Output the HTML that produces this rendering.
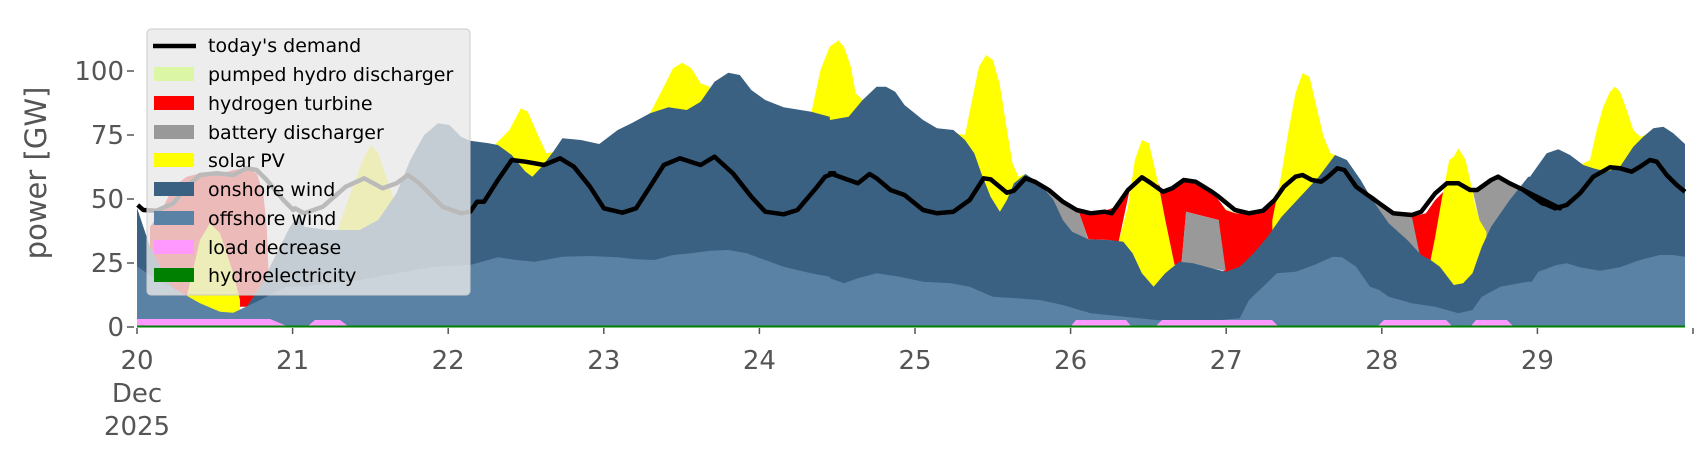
<!DOCTYPE html>
<html><head><meta charset="utf-8"><style>
html,body{margin:0;padding:0;background:#fff;}
svg{display:block;font-family:"DejaVu Sans","Liberation Sans",sans-serif;}
</style></head><body>
<svg id="s" width="1706" height="460" viewBox="0 0 1706 460" xmlns="http://www.w3.org/2000/svg">
<g id="plot"></g>
<g fill="#555" font-size="26">
<text x="124" y="80" text-anchor="end">100</text>
<text x="124" y="144" text-anchor="end">75</text>
<text x="124" y="208" text-anchor="end">50</text>
<text x="124" y="272" text-anchor="end">25</text>
<text x="124" y="336" text-anchor="end">0</text>
</g>
<g stroke="#555" stroke-width="1.5">
<line x1="127" y1="71" x2="134" y2="71"/><line x1="127" y1="135" x2="134" y2="135"/>
<line x1="127" y1="199" x2="134" y2="199"/><line x1="127" y1="263" x2="134" y2="263"/>
<line x1="127" y1="327" x2="134" y2="327"/>
</g>
<text transform="translate(46,173) rotate(-90)" text-anchor="middle" font-size="29" fill="#555">power [GW]</text>
<g id="xt" fill="#555" font-size="26" text-anchor="middle"></g>
<g>
<rect x="147" y="29" width="323" height="266" rx="4" fill="#e8e8e8" fill-opacity="0.8" stroke="#cccccc" stroke-width="1"/>
<line x1="153" y1="46" x2="196" y2="46" stroke="#000" stroke-width="4.5"/>
<rect x="154" y="67" width="40" height="14" fill="#dbf7a5"/>
<rect x="154" y="96" width="40" height="14" fill="#ff0000"/>
<rect x="154" y="125" width="40" height="14" fill="#999999"/>
<rect x="154" y="153" width="40" height="14" fill="#ffff00"/>
<rect x="154" y="182" width="40" height="14" fill="#3b6182"/>
<rect x="154" y="211" width="40" height="14" fill="#5a82a5"/>
<rect x="154" y="240" width="40" height="14" fill="#ff99ff"/>
<rect x="154" y="268" width="40" height="14" fill="#008000"/>
<g font-size="19" fill="#000">
<text x="208" y="52">today's demand</text>
<text x="208" y="81">pumped hydro discharger</text>
<text x="208" y="110">hydrogen turbine</text>
<text x="208" y="139">battery discharger</text>
<text x="208" y="167">solar PV</text>
<text x="208" y="196">onshore wind</text>
<text x="208" y="225">offshore wind</text>
<text x="208" y="254">load decrease</text>
<text x="208" y="282">hydroelectricity</text>
</g>
</g>
</svg>
<script>
(function(){
var NS="http://www.w3.org/2000/svg",B=327;
function Z1(a){return a.map(function(p){return [120+p[0]/2.17,20+p[1]/3];});}
function Z2(a){return a.map(function(p){return [830+p[0]/2.148,20+p[1]/3];});}
function Z3(a){return a.map(function(p){return [p[0]/3,40+p[1]/3];});}
function Z4(a){return a.map(function(p){return [1480+p[0]/3,20+p[1]/3];});}
var g=document.getElementById("plot");
function el(n,at){var e=document.createElementNS(NS,n);for(var k in at)e.setAttribute(k,at[k]);return e;}
function str(p){return p.map(function(q){return q[0].toFixed(1)+","+q[1].toFixed(1);}).join(" L");}
function area(p,c){g.appendChild(el("path",{d:"M"+p[0][0].toFixed(1)+","+B+" L"+str(p)+" L"+p[p.length-1][0].toFixed(1)+","+B+" Z",fill:c}));}
function poly(p,c){g.appendChild(el("path",{d:"M"+str(p)+" Z",fill:c}));}
// pumped hydro
poly(Z2([[840,555],[870,578],[900,582],[925,578],[910,648],[880,642],[850,620]]),"#dbf7a5");
// hydrogen
poly(Z3([[450,560],[480,520],[520,440],[560,410],[600,400],[650,405],[700,390],[740,385],[770,400],[790,460],[800,560],[810,800],[450,800]]),"#ff0000");
poly(Z2([[535,578],[560,580],[595,570],[615,560],[630,540],[645,500],[620,665],[600,660],[555,658]]),"#ff0000");
poly(Z2([[705,490],[715,515],[735,505],[760,480],[790,495],[820,515],[840,550],[850,570],[870,580],[900,582],[925,578],[945,555],[960,530],[972,480],[975,600],[940,720],[900,820],[850,820],[835,600],[765,575],[755,730],[740,735],[720,600]]),"#ff0000");
poly(Z2([[1250,590],[1280,580],[1300,540],[1325,505],[1300,700],[1285,760],[1250,760]]),"#ff0000");
// battery
poly(Z2([[420,462],[460,505],[500,545],[535,578],[555,660],[520,680],[480,620],[430,560]]),"#999999");
poly(Z2([[765,575],[835,600],[850,752],[755,730]]),"#999999");
poly(Z2([[1130,495],[1170,530],[1210,580],[1250,590],[1268,712],[1240,700],[1200,660],[1140,560]]),"#999999");
poly(Z2([[1380,510],[1410,490],[1435,470],[1460,490],[1490,510],[1530,550],[1568,560],[1568,800],[1400,800],[1395,600]]),"#999999");
poly(Z4([[0,500],[50,468],[100,495],[150,520],[150,800],[0,800]]),"#999999");
// solar
var Y="#ffff00";
area(Z3([[560,770],[600,600],[630,550],[660,580],[700,700],[720,780]]),Y);
area(Z1([[470,640],[500,520],[530,410],[545,375],[560,400],[590,520],[610,630]]),Y);
area(Z1([[815,372],[845,330],[870,265],[885,275],[905,340],[925,400],[945,395]]),Y);
area(Z1([[1150,280],[1180,200],[1200,145],[1220,128],[1240,145],[1260,190],[1280,200]]),Y);
area(Z1([[1500,280],[1520,150],[1540,80],[1560,60]]).concat(Z2([[15,58],[30,80],[45,140],[55,220],[70,240]])),Y);
area(Z2([[270,340],[290,345],[305,240],[320,140],[335,105],[350,120],[365,195],[380,330],[392,430],[405,470],[420,462]]),Y);
area(Z2([[620,665],[640,560],[655,420],[670,360],[685,370],[695,430],[705,490],[720,600],[740,735]]),Y);
area(Z2([[950,600],[970,460],[985,330],[1000,220],[1015,160],[1030,170],[1045,260],[1060,350],[1075,400],[1085,405]]),Y);
area(Z2([[1290,720],[1300,650],[1315,530],[1330,420],[1340,410],[1350,385],[1365,420],[1375,480],[1385,550],[1395,600],[1410,635]]),Y);
area(Z4([[300,435],[330,420],[350,330],[370,260],[390,215],[405,200],[420,215],[440,270],[460,330],[480,350],[495,345]]),Y);
// onshore
var on=Z3([[411,505],[413,510],[450,620],[500,720],[560,790],[620,815],[690,825],[740,800],[780,740],[830,640],[870,560],[900,520]])
.concat(Z1([[400,620],[450,630],[520,630],[560,600],[600,520],[630,420],[660,345],[690,310],[715,315],[740,350],[760,362],[800,370],[820,375],[850,405],[880,455],[895,470],[915,440],[940,395],[960,355],[1000,360],[1040,372],[1080,330],[1110,310],[1150,280],[1190,262],[1230,270],[1260,245],[1290,185],[1320,158],[1345,165],[1370,210],[1400,240],[1440,262],[1500,275],[1540,290]]))
.concat(Z2([[0,300],[40,290],[70,240],[100,200],[120,200],[140,215],[160,255],[200,300],[230,325],[265,330],[290,360],[310,400],[325,460],[345,530],[365,575],[380,540],[395,490],[420,462],[450,490],[480,540],[500,600],[520,635],[555,658],[600,660],[630,665],[650,700],[670,760],[695,800],[720,760],[750,725],[780,730],[820,745],[850,755],[880,740],[910,700],[940,650],[970,590],[1010,530],[1050,470],[1085,405],[1110,420],[1140,480],[1165,540],[1200,610],[1240,660],[1270,705],[1290,720],[1310,740],[1340,795],[1360,790],[1380,760],[1400,680],[1420,620],[1460,540],[1500,470]]))
.concat(Z4([[150,470],[200,400],[235,388],[270,405],[310,435],[340,445],[380,455],[420,440],[460,380],[490,350],[520,325],[550,320],[580,340],[615,372]]));
area(on,"#3b6182");
var off=Z3([[411,680],[413,680],[470,720],[530,750],[600,790],[660,815],[700,818],[760,790],[820,760],[860,740],[900,740]])
.concat(Z1([[400,800],[450,790],[520,780],[600,760],[680,740],[760,735],[820,712],[860,720],[900,725],[960,710],[1020,708],[1080,712],[1120,718],[1160,720],[1200,705],[1240,700],[1280,692],[1320,690],[1360,700],[1400,720],[1440,740],[1500,760],[1540,770]]))
.concat(Z2([[0,775],[30,790],[60,775],[100,760],[150,770],[200,785],[260,790],[300,800],[350,830],[400,835],[450,840],[500,855],[560,880],[700,900],[800,905],[880,895],[900,840],[930,800],[960,760],[1000,755],[1040,735],[1080,710],[1100,712],[1130,740],[1160,800],[1180,810],[1200,830],[1250,850],[1300,860],[1350,880],[1380,870],[1400,830],[1440,800],[1480,790],[1500,785]]))
.concat(Z4([[155,785],[175,755],[230,735],[260,730],[300,742],[360,752],[420,742],[480,720],[540,705],[580,705],[615,710]]));
area(off,"#5a82a5");
// load decrease
var P="#ff99ff";
area([[137,319],[270,319],[287,326]],P);
area([[308,326],[315,320],[340,320],[348,326]],P);
area([[1071,326],[1076,320],[1126,320],[1131,326]],P);
area([[1156,326],[1162,320],[1272,320],[1278,326]],P);
area([[1378,326],[1384,320],[1446,320],[1452,326]],P);
area([[1471,326],[1476,320],[1507,320],[1513,326]],P);
g.appendChild(el("line",{x1:137,y1:326.5,x2:1685,y2:326.5,stroke:"#008000","stroke-width":2}));
// demand
var d=Z3([[413,495],[430,510],[470,512],[520,490],[560,440],[600,405],[650,400],[700,405],[740,385],[770,390],[800,420],[850,480],[880,510]])
.concat(Z1([[380,565],[400,580],[440,560],[490,500],[530,475],[570,505],[600,490],[625,465],[650,490],[700,560],[740,580],[760,575],[775,545],[790,545],[820,480],[850,420],[880,425],[920,435],[955,415],[985,440],[1020,500],[1050,565],[1090,578],[1120,565],[1150,500],[1180,435],[1215,415],[1260,435],[1290,410],[1330,460],[1370,530],[1400,575],[1440,583],[1470,570],[1510,505],[1530,470],[1550,460]]))
.concat(Z2([[0,460],[40,480],[60,490],[85,462],[100,475],[130,510],[160,525],[200,570],[230,580],[265,575],[300,540],[330,475],[345,478],[380,518],[395,512],[420,475],[440,485],[470,510],[500,545],[530,570],[560,580],[590,575],[605,580],[640,510],[670,472],[690,490],[715,515],[735,505],[760,480],[785,485],[820,515],[835,530],[870,570],[900,580],[930,572],[955,540],[975,500],[1000,470],[1015,465],[1035,480],[1055,485],[1070,470],[1090,445],[1105,450],[1130,500],[1160,530],[1210,580],[1250,585],[1270,575],[1300,520],[1325,490],[1350,490],[1375,510],[1390,510],[1420,480],[1435,470],[1460,490],[1490,510],[1530,550],[1568,565]]))
.concat(Z4([[130,510],[180,545],[225,565],[260,555],[300,520],[340,470],[390,442],[420,445],[455,455],[480,440],[510,420],[530,425],[560,465],[590,495],[615,515]]));
g.appendChild(el("path",{d:"M"+str(d),fill:"none",stroke:"#000","stroke-width":4.5,"stroke-linejoin":"round"}));
// x ticks
var xt=document.getElementById("xt");
for(var i=0;i<=10;i++){var x=137+i*155.6;
 g.appendChild(el("line",{x1:x,y1:328,x2:x,y2:334,stroke:"#555","stroke-width":1.5}));
 if(i<10){var t=el("text",{x:x,y:369});t.textContent=String(20+i);xt.appendChild(t);}}
var t1=el("text",{x:137,y:402});t1.textContent="Dec";xt.appendChild(t1);
var t2=el("text",{x:137,y:435});t2.textContent="2025";xt.appendChild(t2);
})();
</script>
</body></html>
